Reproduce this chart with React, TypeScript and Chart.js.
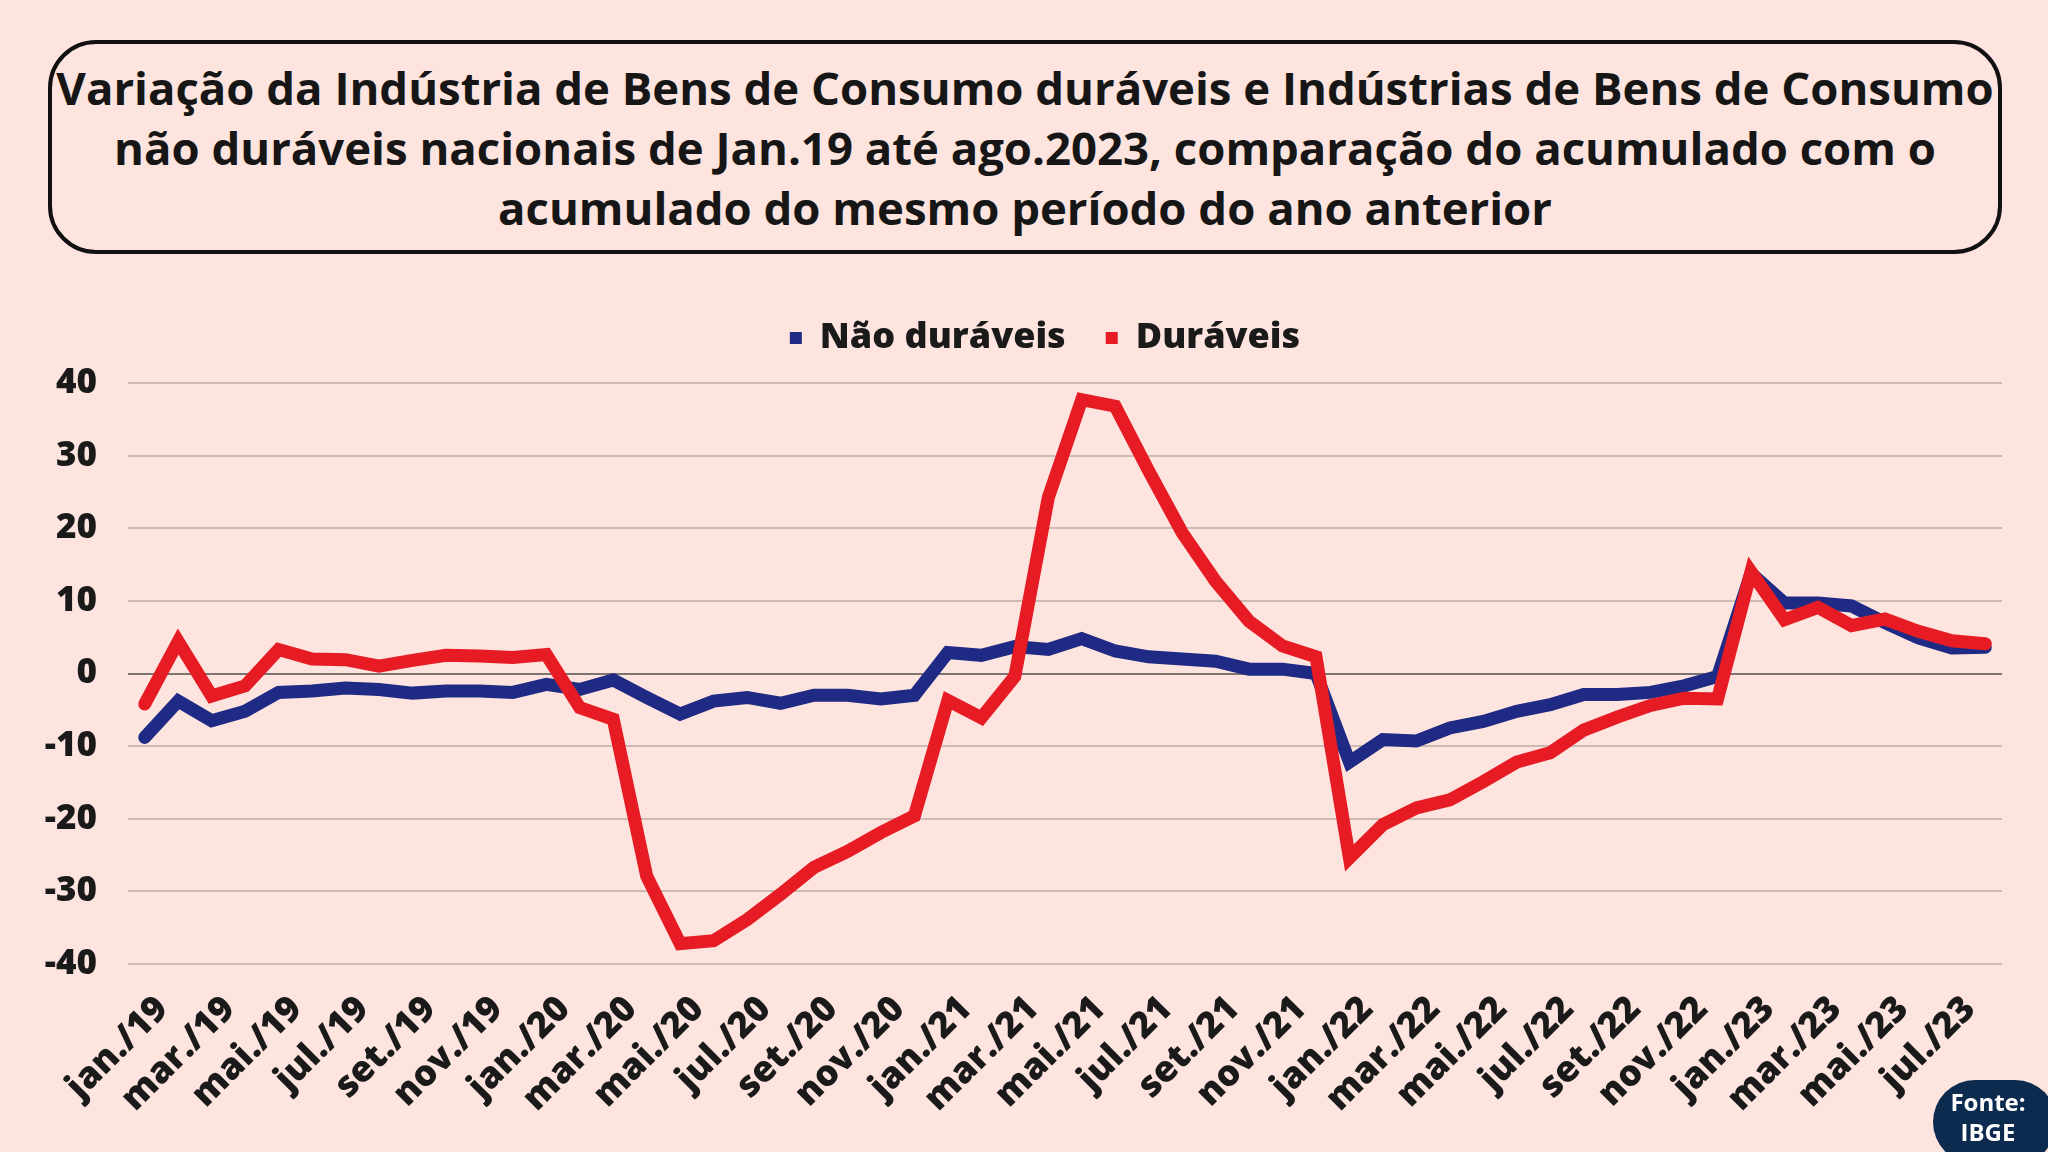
import React, { useEffect, useRef } from "react";
import { Chart, registerables } from "chart.js";

Chart.register(...registerables);

const categories = [
  "jan./19", "fev./19", "mar./19", "abr./19", "mai./19", "jun./19", "jul./19", "ago./19", "set./19", "out./19", "nov./19", "dez./19",
  "jan./20", "fev./20", "mar./20", "abr./20", "mai./20", "jun./20", "jul./20", "ago./20", "set./20", "out./20", "nov./20", "dez./20",
  "jan./21", "fev./21", "mar./21", "abr./21", "mai./21", "jun./21", "jul./21", "ago./21", "set./21", "out./21", "nov./21", "dez./21",
  "jan./22", "fev./22", "mar./22", "abr./22", "mai./22", "jun./22", "jul./22", "ago./22", "set./22", "out./22", "nov./22", "dez./22",
  "jan./23", "fev./23", "mar./23", "abr./23", "mai./23", "jun./23", "jul./23", "ago./23",
];

const naoDuraveis = [
  -8.8, -3.8, -6.5, -5.2, -2.6, -2.4, -2.0, -2.2, -2.7, -2.4, -2.4, -2.6,
  -1.5, -2.2, -0.9, -3.3, -5.6, -3.8, -3.3, -4.1, -3.0, -3.0, -3.5, -3.0,
  2.9, 2.5, 3.7, 3.3, 4.8, 3.1, 2.3, 2.0, 1.7, 0.6, 0.6, 0.0,
  -12.2, -9.1, -9.3, -7.5, -6.6, -5.2, -4.3, -2.9, -2.9, -2.6, -1.7, -0.4,
  13.8, 9.7, 9.7, 9.3, 7.0, 4.9, 3.5, 3.6,
];

const duraveis = [
  -4.2, 4.4, -3.1, -1.7, 3.3, 2.0, 1.9, 1.0, 1.8, 2.5, 2.4, 2.2,
  2.6, -4.7, -6.3, -27.9, -37.2, -36.8, -33.9, -30.4, -26.7, -24.5, -21.9, -19.6,
  -3.7, -6.1, -0.4, 24.2, 37.7, 36.8, 27.9, 19.4, 12.7, 7.2, 3.8, 2.3,
  -25.4, -20.8, -18.5, -17.4, -14.9, -12.2, -10.9, -7.8, -6.0, -4.4, -3.4, -3.5,
  14.0, 7.4, 9.1, 6.6, 7.5, 5.8, 4.5, 4.1,
];

const seriesNames = ["Não duráveis", "Duráveis"];
const yTicks = [-40, -30, -20, -10, 0, 10, 20, 30, 40];

const titleLines = [
  "Variação da Indústria de Bens de Consumo duráveis e Indústrias de Bens de Consumo",
  "não duráveis nacionais de Jan.19 até ago.2023, comparação do acumulado com o",
  "acumulado do mesmo período do ano anterior",
];

const BG = "#fee4de";
const BLUE = "#1e2a84";
const RED = "#e71b24";
const FONT = "'Open Sans', 'Noto Sans', sans-serif";

const legendSpacer = {
  id: "legendSpacer",
  beforeInit(chart: any) {
    const legend = chart.legend;
    if (!legend) return;
    const origFit = legend.fit;
    legend.fit = function fit() {
      origFit.call(this);
      this.height += 17;
    };
  },
  afterLayout(chart: any) {
    if (chart.legend) chart.legend.left += 88;
  },
};

export default function App() {
  const canvasRef = useRef<HTMLCanvasElement | null>(null);

  useEffect(() => {
    const canvas = canvasRef.current;
    if (!canvas) return;
    const chart = new Chart(canvas, {
      type: "line",
      plugins: [legendSpacer],
      data: {
        labels: categories,
        datasets: [
          {
            label: seriesNames[1],
            data: duraveis,
            borderColor: RED,
            backgroundColor: RED,
            borderWidth: 13,
            pointRadius: 0,
            borderCapStyle: "round",
            borderJoinStyle: "miter",
            tension: 0,
          },
          {
            label: seriesNames[0],
            data: naoDuraveis,
            borderColor: BLUE,
            backgroundColor: BLUE,
            borderWidth: 13,
            pointRadius: 0,
            borderCapStyle: "round",
            borderJoinStyle: "miter",
            tension: 0,
          },
        ],
      },
      options: {
        responsive: false,
        animation: false,
        devicePixelRatio: 1,
        layout: { padding: { top: 30, right: 46, left: 0, bottom: 0 } },
        plugins: {
          tooltip: { enabled: false },
          legend: {
            display: true,
            position: "top",
            reverse: true,
            labels: {
              boxWidth: 12,
              boxHeight: 12,
              padding: 40,
              color: "#1a1a1a",
              font: { family: FONT, size: 36, weight: "800" },
              generateLabels: (ch: any) =>
                ch.data.datasets.map((ds: any, i: number) => ({
                  text: ds.label,
                  fillStyle: ds.borderColor,
                  strokeStyle: ds.borderColor,
                  lineWidth: 0,
                  hidden: false,
                  datasetIndex: i,
                  fontColor: "#1a1a1a",
                })),
            },
          },
        },
        scales: {
          x: {
            offset: true,
            grid: { display: false },
            border: { display: false },
            ticks: {
              autoSkip: false,
              maxRotation: 45,
              minRotation: 45,
              padding: 16,
              labelOffset: 18,
              color: "#1a1a1a",
              font: { family: FONT, size: 36, weight: "800" },
              callback: (_v: any, i: number) => (i % 2 === 0 ? categories[i] : null),
            },
            afterFit: (scale: any) => {
              scale.height = 188;
            },
          },
          y: {
            min: yTicks[0],
            max: yTicks[yTicks.length - 1],
            border: { display: false },
            grid: {
              drawTicks: false,
              lineWidth: 2,
              color: (ctx: any) => (ctx.tick && ctx.tick.value === 0 ? "#7d7472" : "#cdbab3"),
            },
            ticks: {
              stepSize: 10,
              padding: 31,
              color: "#1a1a1a",
              font: { family: FONT, size: 35, weight: "800" },
            },
            afterFit: (scale: any) => {
              scale.width = 128;
            },
          },
        },
      },
    });
    return () => chart.destroy();
  }, []);

  return (
    <div
      style={{
        position: "fixed",
        left: 0,
        top: 0,
        width: 2048,
        height: 1152,
        background: BG,
        overflow: "hidden",
        fontFamily: FONT,
      }}
    >
      <div
        style={{
          position: "absolute",
          left: 48,
          top: 40,
          width: 1946,
          height: 206,
          border: "4px solid #111",
          borderRadius: 48,
          display: "flex",
          flexDirection: "column",
          alignItems: "center",
          justifyContent: "center",
          color: "#161616",
          fontWeight: 700,
          fontSize: 45.5,
          lineHeight: "60px",
        }}
      >
        {titleLines.map((t) => (
          <div key={t} style={{ whiteSpace: "nowrap" }}>
            {t}
          </div>
        ))}
      </div>
      <canvas
        ref={canvasRef}
        width={2048}
        height={902}
        style={{ position: "absolute", left: 0, top: 250, width: 2048, height: 902 }}
      />
      <div
        style={{
          position: "absolute",
          left: 1933,
          top: 1080,
          width: 124,
          height: 84,
          borderRadius: 42,
          background: "#0c2b4e",
          color: "#ffffff",
          fontWeight: 700,
          fontSize: 24,
          lineHeight: "30px",
          display: "flex",
          flexDirection: "column",
          alignItems: "center",
          justifyContent: "flex-start",
          paddingTop: 7,
          paddingRight: 14,
          boxSizing: "border-box",
        }}
      >
        <div>Fonte:</div>
        <div>IBGE</div>
      </div>
    </div>
  );
}
